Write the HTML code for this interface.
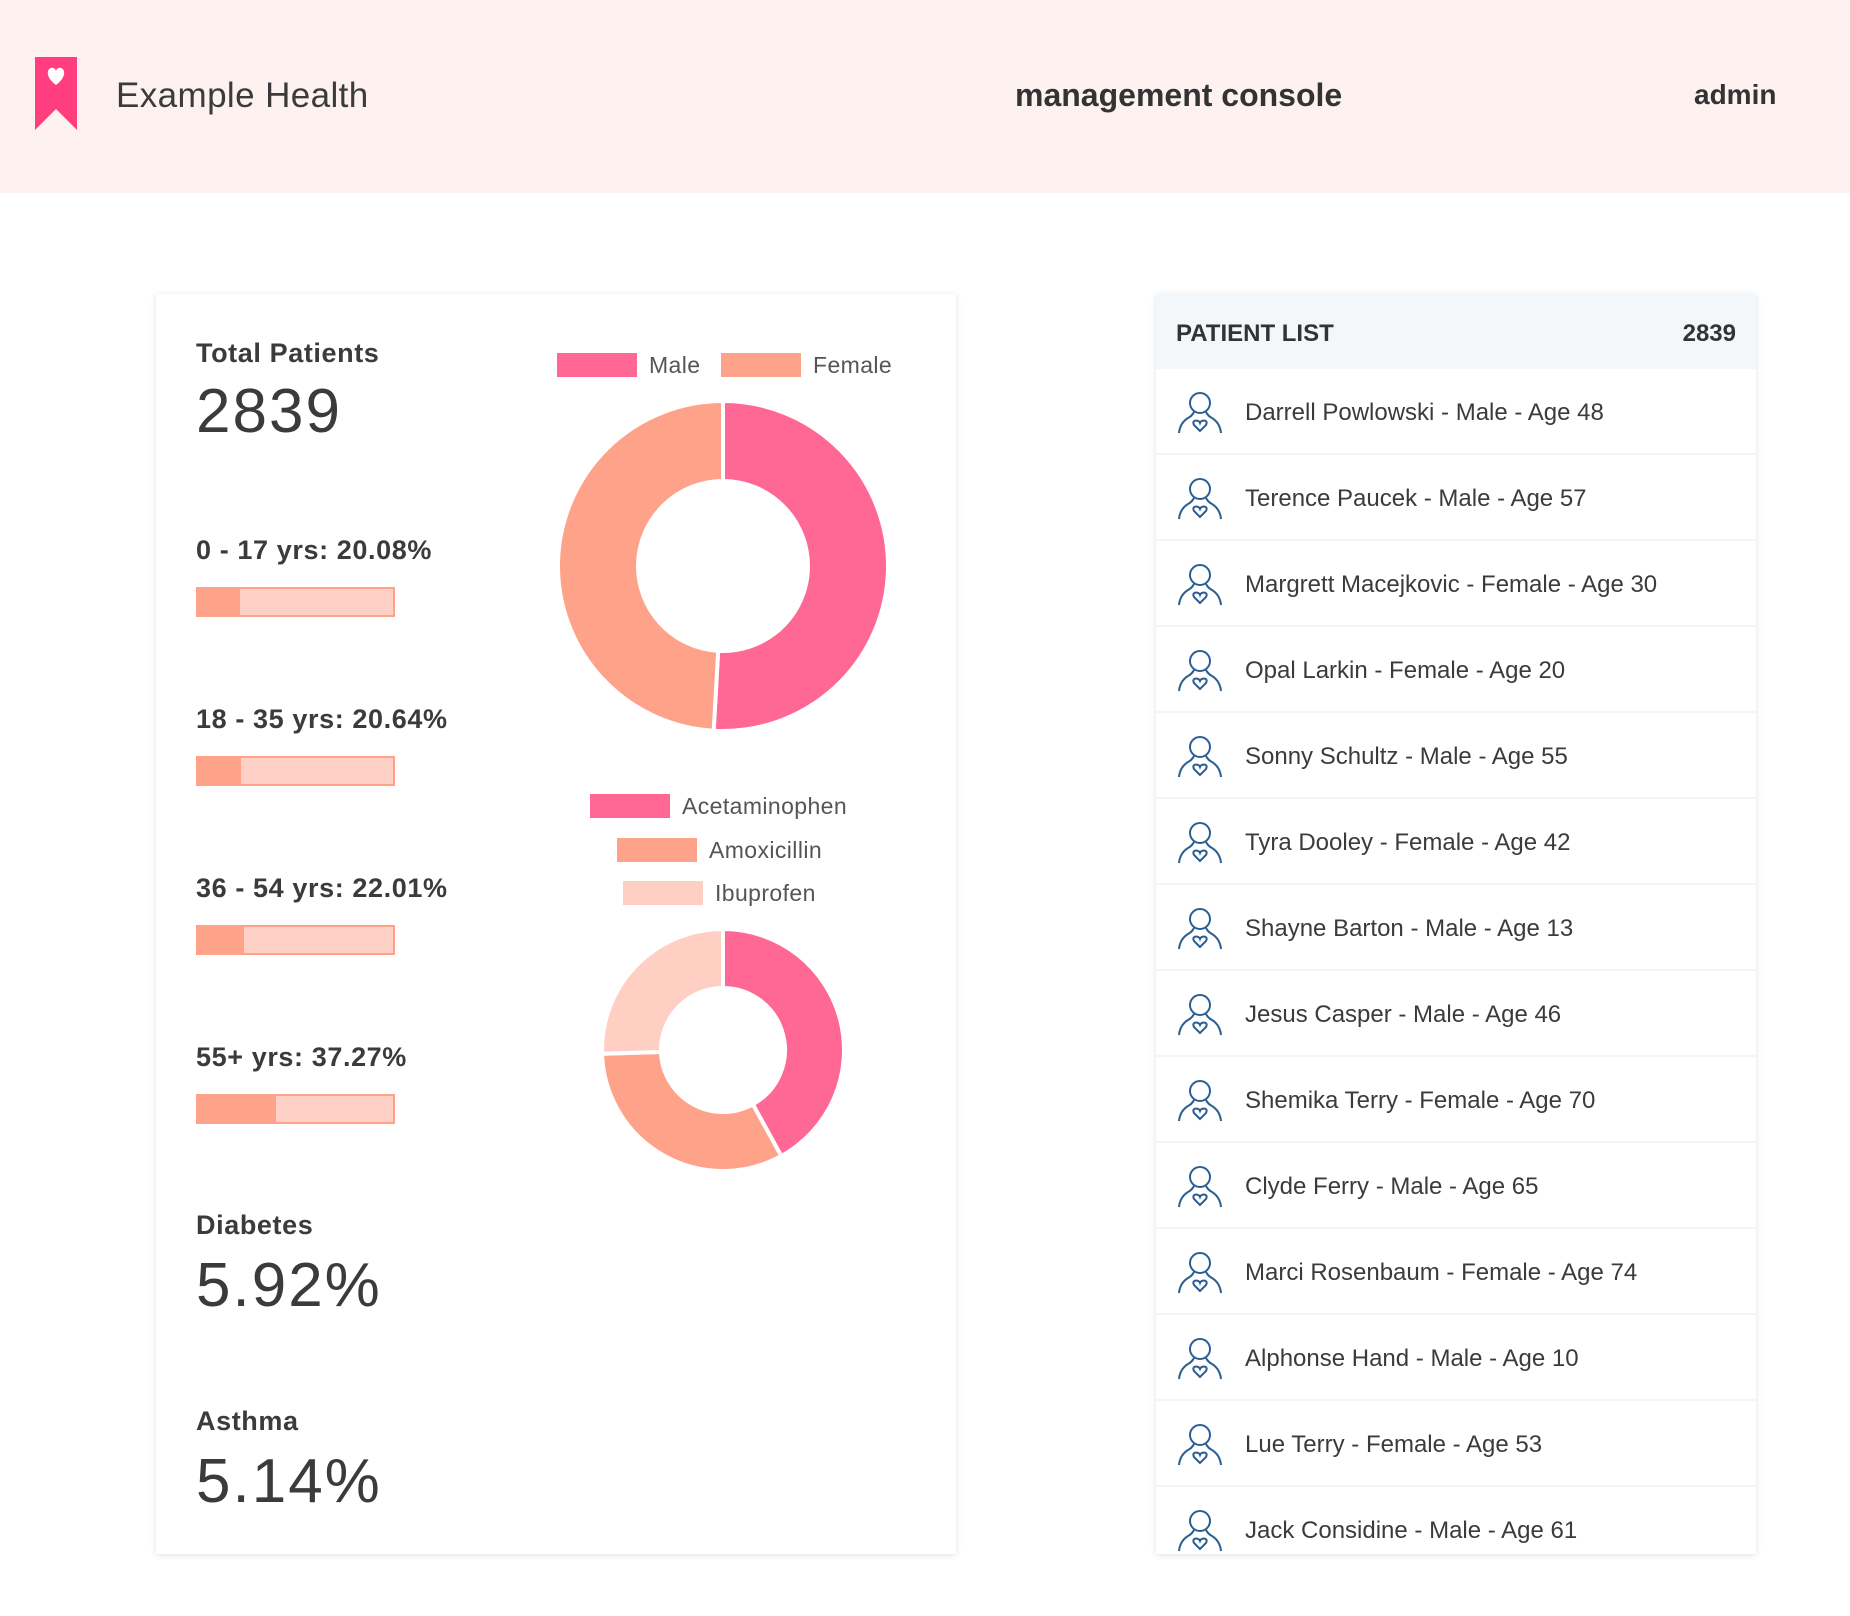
<!DOCTYPE html>
<html><head><meta charset="utf-8">
<style>
*{box-sizing:border-box;margin:0;padding:0}
body{width:1850px;height:1616px;background:#fff;font-family:"Liberation Sans",sans-serif;color:#3b3b3b;position:relative;overflow:hidden}
.abs{position:absolute}
#header{left:0;top:0;width:1850px;height:193px;background:#fef2f0}
.card{background:#fff;box-shadow:0 1px 6px rgba(0,0,0,0.12)}
.row{position:absolute;left:0;width:600px;height:86px;border-bottom:2px solid #f2f5f9}
.row span{position:absolute;left:89px;top:30px;font-size:24px;color:#3b3b3b}
.row svg{position:absolute;left:22px;top:22px}
.lbl{font-size:27px;font-weight:bold;color:#3b3b3b;letter-spacing:0.6px}
.track{position:absolute;width:199px;height:30px;background:#ffd0c6;border:2px solid #ffa28a}
.fill{height:100%;background:#ffa28a}
.big{font-size:62px;letter-spacing:2px;color:#3b3b3b}
</style></head><body>
<div id="header" class="abs">
  <svg class="abs" style="left:35px;top:57px" width="42" height="73">
    <path d="M0 0H42V73L21 52L0 73Z" fill="#ff3d7f"/>
    <path d="M21 28 C10 20 12 12 16 11 C19 10 21 13 21 14 C21 13 23 10 26 11 C30 12 32 20 21 28Z" fill="#fff"/>
  </svg>
  <div class="abs" style="left:116px;top:76px;font-size:35px;color:#3b3b3b;letter-spacing:0.4px">Example Health</div>
  <div class="abs" style="left:1015px;top:77px;font-size:32px;color:#333;font-weight:bold">management console</div>
  <div class="abs" style="left:1694px;top:79px;font-size:28px;color:#333;font-weight:bold">admin</div>
</div>

<div class="abs card" style="left:156px;top:294px;width:800px;height:1260px">
  <div class="abs lbl" style="left:40px;top:44px">Total Patients</div>
  <div class="abs big" style="left:40px;top:82px">2839</div>
  <div id="ages"></div>
  <div class="abs lbl" style="left:40px;top:916px">Diabetes</div>
  <div class="abs big" style="left:40px;top:956px">5.92%</div>
  <div class="abs lbl" style="left:40px;top:1112px">Asthma</div>
  <div class="abs big" style="left:40px;top:1152px">5.14%</div>
  <svg id="charts" class="abs" style="left:0;top:0" width="800" height="1260"></svg>
</div>

<div class="abs card" style="left:1156px;top:294px;width:600px;height:1260px;overflow:hidden">
  <div class="abs" style="left:0;top:0;width:600px;height:75px;background:#f4f7fa">
    <div class="abs" style="left:20px;top:26px;font-size:24px;font-weight:bold;color:#333">PATIENT LIST</div>
    <div class="abs" style="right:20px;top:26px;font-size:24px;font-weight:bold;color:#333">2839</div>
  </div>
  <div id="rows"></div>
</div>

<script>
const ageLabels=["0 - 17 yrs","18 - 35 yrs","36 - 54 yrs","55+ yrs"];
const agePct=[20.08,20.64,22.01,37.27];
const genderLabels=["Male","Female"];
const genderValues=[50.9,49.1];
const drugLabels=["Acetaminophen","Amoxicillin","Ibuprofen"];
const drugValues=[42,32.5,25.5];
const patients=["Darrell Powlowski - Male - Age 48","Terence Paucek - Male - Age 57","Margrett Macejkovic - Female - Age 30","Opal Larkin - Female - Age 20","Sonny Schultz - Male - Age 55","Tyra Dooley - Female - Age 42","Shayne Barton - Male - Age 13","Jesus Casper - Male - Age 46","Shemika Terry - Female - Age 70","Clyde Ferry - Male - Age 65","Marci Rosenbaum - Female - Age 74","Alphonse Hand - Male - Age 10","Lue Terry - Female - Age 53","Jack Considine - Male - Age 61"];
const colors=["#ff6795","#ffa28a","#ffcfc4"];

const ages=document.getElementById('ages');
agePct.forEach((p,i)=>{
  const y=241+i*169;
  const l=document.createElement('div');
  l.className='abs lbl';l.style.left='40px';l.style.top=y+'px';
  l.textContent=ageLabels[i]+': '+p.toFixed(2)+'%';
  
  
  ages.appendChild(l);
  const t=document.createElement('div');
  t.className='track';t.style.left='40px';t.style.top=(y+52)+'px';
  
  
  const f=document.createElement('div');f.className='fill';f.style.width=(p*2.1)+'px';
  
  
  t.appendChild(f);ages.appendChild(t);
});

const NS='http://www.w3.org/2000/svg';
const svg=document.getElementById('charts');
function donut(vals,cx,cy,R,r,name){
  const tot=vals.reduce((a,b)=>a+b,0);let a0=0;
  vals.forEach((v,i)=>{
    const a1=a0+v/tot*Math.PI*2;
    const pt=(rad,a)=>[cx+rad*Math.sin(a),cy-rad*Math.cos(a)];
    const large=(a1-a0)>Math.PI?1:0;
    const [x1,y1]=pt(R,a0),[x2,y2]=pt(R,a1),[x3,y3]=pt(r,a1),[x4,y4]=pt(r,a0);
    const p=document.createElementNS(NS,'path');
    p.setAttribute('d',`M${x1} ${y1}A${R} ${R} 0 ${large} 1 ${x2} ${y2}L${x3} ${y3}A${r} ${r} 0 ${large} 0 ${x4} ${y4}Z`);
    p.setAttribute('fill',colors[i]);p.setAttribute('stroke','#fff');p.setAttribute('stroke-width','4');
    
    
    svg.appendChild(p);a0=a1;
  });
}
function legend(label,i,x,y){
  const r=document.createElementNS(NS,'rect');
  r.setAttribute('x',x);r.setAttribute('y',y);r.setAttribute('width',80);r.setAttribute('height',24);r.setAttribute('fill',colors[i]);
  
  
  svg.appendChild(r);
  const t=document.createElementNS(NS,'text');
  t.setAttribute('x',x+92);t.setAttribute('y',y+20);t.setAttribute('font-size','23');t.setAttribute('fill','#555');
  t.setAttribute('font-family','Liberation Sans, sans-serif');t.setAttribute('letter-spacing','0.4');t.textContent=label;
  
  
  svg.appendChild(t);
}
legend(genderLabels[0],0,401,59);legend(genderLabels[1],1,565,59);
donut(genderValues,567,272,165,85,'gender');
legend(drugLabels[0],0,434,500);legend(drugLabels[1],1,461,544);legend(drugLabels[2],2,467,587);
donut(drugValues,567,756,121,62,'medication');

const rows=document.getElementById('rows');
patients.forEach((n,i)=>{
  const d=document.createElement('div');d.className='row';d.style.top=(75+i*86)+'px';
  
  
  d.innerHTML='<svg width="44" height="44" viewBox="0 0 44 44"><circle cx="22" cy="12" r="10" fill="none" stroke="#2b5f94" stroke-width="2"/><path d="M16 21 Q14 25 10 27 Q2 32 1 42 M28 21 Q30 25 34 27 Q42 32 43 42" fill="none" stroke="#2b5f94" stroke-width="2"/><path d="M22 40 L16 34 Q14 30 18 29.5 Q21 29.5 22 32 Q23 29.5 26 29.5 Q30 30 28 34 Z" fill="none" stroke="#2b5f94" stroke-width="2"/></svg><span>'+n+'</span>';
  rows.appendChild(d);
});
</script>
</body></html>
